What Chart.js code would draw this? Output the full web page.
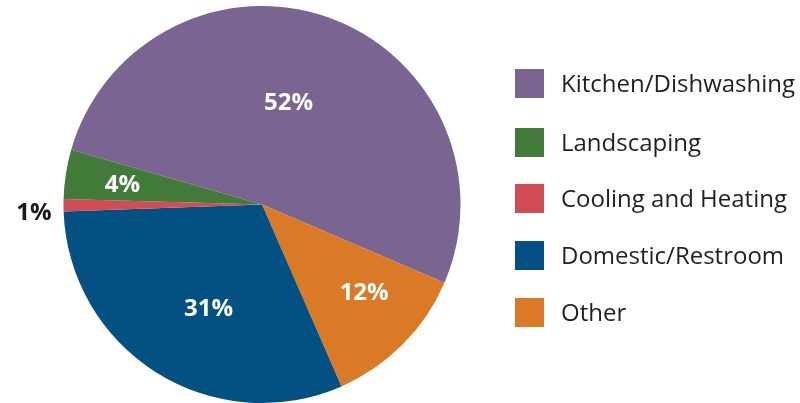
<!DOCTYPE html>
<html>
<head>
<meta charset="utf-8">
<script src="https://cdn.jsdelivr.net/npm/chart.js@4"></script>
<style>
  html, body { margin: 0; padding: 0; background: #fff; }
  #wrap { position: relative; width: 800px; height: 403px; overflow: hidden; }
  #legend { position: absolute; left: 515px; top: 0; font-family: "Open Sans", sans-serif; font-size: 24px; color: #231f20; }
  .item { position: absolute; left: 0; white-space: nowrap; height: 29px; line-height: 29px; }
  .sw { position: absolute; left: 0; top: 0; width: 29px; height: 29px; }
  .lbl { position: absolute; left: 46px; top: -1px; }
</style>
</head>
<body>
<div id="wrap">
  <canvas id="myChart" width="800" height="403"></canvas>
  <div id="legend"></div>
</div>
<script>
// legend order
const categories = ['Kitchen/Dishwashing', 'Landscaping', 'Cooling and Heating', 'Domestic/Restroom', 'Other'];
const shares = [52, 4, 1, 31, 12];
const colors = ['#7a6491', '#427a39', '#d14c55', '#025182', '#da7a27'];
// slices go clockwise in this order around the pie
const pieOrder = [0, 4, 3, 2, 1];

// label placement: fraction of radius, angle nudge (deg), colour
const labelStyle = {
    'Kitchen/Dishwashing': { r: 0.53, da: -5, color: '#fff' },
    'Landscaping': { r: 0.71, da: -1, color: '#fff' },
    'Cooling and Heating': { r: 1.15, da: -2, color: '#1a1a1a' },
    'Domestic/Restroom': { r: 0.59, da: -5, color: '#fff' },
    'Other': { r: 0.68, da: -4, color: '#fff' }
};

const pieLabels = pieOrder.map(i => categories[i]);
const pieData = pieOrder.map(i => shares[i]);
const pieColors = pieOrder.map(i => colors[i]);

const sliceLabels = {
    id: 'sliceLabels',
    afterDatasetsDraw(chart) {
        const c = chart.ctx;
        const meta = chart.getDatasetMeta(0);
        c.save();
        c.font = 'bold 24px "Open Sans", sans-serif';
        c.textAlign = 'center';
        c.textBaseline = 'middle';
        meta.data.forEach((arc, i) => {
            const name = chart.data.labels[i];
            const st = labelStyle[name];
            const p = arc.getProps(['x', 'y', 'startAngle', 'endAngle', 'outerRadius']);
            const a = (p.startAngle + p.endAngle) / 2 + st.da * Math.PI / 180;
            const r = p.outerRadius * st.r;
            c.fillStyle = st.color;
            c.fillText(chart.data.datasets[0].data[i] + '%', p.x + Math.cos(a) * r, p.y + Math.sin(a) * r);
        });
        c.restore();
    }
};

const ctx = document.getElementById('myChart');
const myChart = new Chart(ctx, {
    type: 'pie',
    data: {
        labels: pieLabels,
        datasets: [{
            data: pieData,
            backgroundColor: pieColors,
            borderWidth: 0
        }]
    },
    options: {
        responsive: false,
        animation: false,
        rotation: -74,
        layout: { padding: { left: 62, right: 338, top: 6, bottom: -3 } },
        plugins: {
            legend: { display: false },
            tooltip: { enabled: false }
        }
    },
    plugins: [sliceLabels]
});

// legend, in the original order
const tops = [69, 128, 184, 241, 298];
const legend = document.getElementById('legend');
categories.forEach((name, i) => {
    const item = document.createElement('div');
    item.className = 'item';
    item.style.top = tops[i] + 'px';
    item.innerHTML = '<span class="sw" style="background:' + colors[i] + '"></span><span class="lbl">' + name + '</span>';
    legend.appendChild(item);
});
</script>
</body>
</html>
